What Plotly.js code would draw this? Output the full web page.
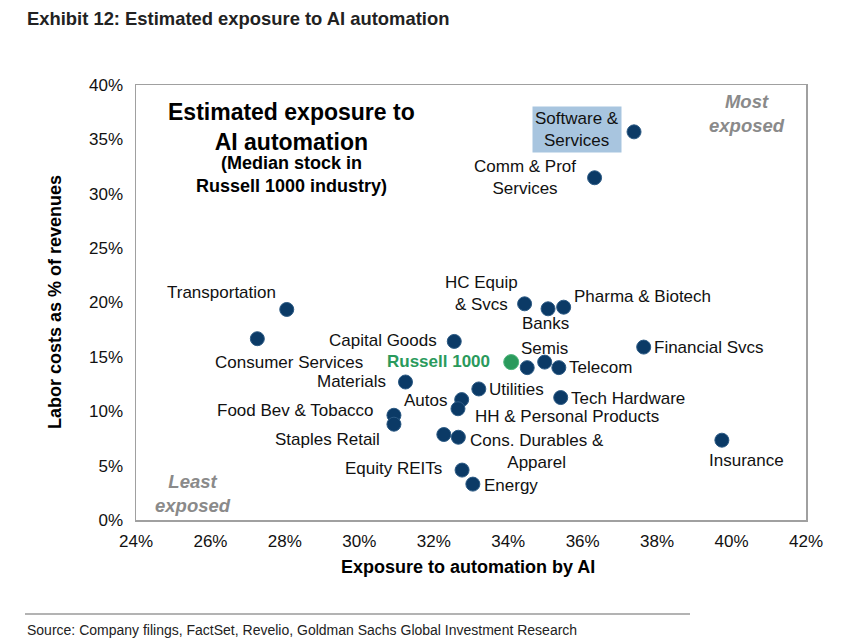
<!DOCTYPE html>
<html>
<head>
<meta charset="utf-8">
<script src="https://cdn.plot.ly/plotly-3.0.1.min.js"></script>
<style>html,body{margin:0;padding:0;background:#fff;}#chart{width:853px;height:640px;}</style>
</head>
<body>
<div id="chart"></div>
<script>
// ---- data ----
const industries = [
  "Software &<br>Services", "Comm & Prof<br>Services", "Transportation", "Consumer Services",
  "Capital Goods", "HC Equip<br>& Svcs", "Banks", "Pharma & Biotech", "Financial Svcs",
  "Semis", "Telecom", "", "Materials", "Utilities", "Autos", "HH & Personal Products",
  "Tech Hardware", "Food Bev & Tobacco", "Staples Retail", "", "Cons. Durables &<br>Apparel",
  "Equity REITs", "Energy", "Insurance"
];
const aiExposure = [
  37.38, 36.32, 28.05, 27.26,
  32.55, 34.44, 35.07, 35.49, 37.64,
  34.98, 35.36, 34.51, 31.24, 33.21, 32.75, 32.65,
  35.41, 30.93, 30.93, 32.27, 32.66,
  32.76, 33.05, 39.74
];
const laborCosts = [
  35.69, 31.47, 19.36, 16.67,
  16.42, 19.88, 19.42, 19.57, 15.90,
  14.52, 14.01, 14.01, 12.69, 12.05, 11.07, 10.23,
  11.26, 9.63, 8.81, 7.86, 7.61,
  4.59, 3.30, 7.34
];
const benchmarkName = ["Russell 1000"];
const benchmarkX = [34.08];
const benchmarkY = [14.52];
const xTicks = [24, 26, 28, 30, 32, 34, 36, 38, 40, 42];
const yTicks = [0, 5, 10, 15, 20, 25, 30, 35, 40];

// ---- label placement (pixel offsets from each point) ----
const labelPlace = [
  ["right", -12, 2], ["right", -18, 0], ["right", -10, 17], ["center", 32, -24],
  ["right", -16, 1], ["right", -6, 10], ["center", -3, -15], ["left", 9, 11], ["left", 9, 0],
  ["center", 0, 14], ["left", 9, 0], ["left", 0, 0], ["right", -18, 1], ["left", 9, -1],
  ["right", -14, -1], ["left", 16, -8], ["left", 9, -1], ["right", -19, 5], ["right", -13, -15],
  ["left", 0, 0], ["left", 11, -14], ["right", -19, 2], ["left", 10, -1], ["center", 25, -20]
];

const navy = "#0b3a66";
const green = "#2a9a5c";
const sans = "Liberation Sans, Arial, sans-serif";
const labelFont = {family: sans, size: 17, color: "#111"};
const tickFont = {family: sans, size: 17, color: "#111"};

const traces = [
  {
    type: "scatter", mode: "markers",
    x: aiExposure, y: laborCosts, text: industries, hoverinfo: "text+x+y",
    marker: {size: 14, color: navy, line: {color: "#2c5a84", width: 1}},
    showlegend: false
  },
  {
    type: "scatter", mode: "markers",
    x: benchmarkX, y: benchmarkY, text: benchmarkName, hoverinfo: "text+x+y",
    marker: {size: 15, color: green, line: {color: "#4cb47a", width: 1}},
    showlegend: false
  }
];

const annotations = [];
industries.forEach((name, i) => {
  if (!name) return;
  const p = labelPlace[i];
  const a = {
    x: aiExposure[i], y: laborCosts[i], xref: "x", yref: "y",
    text: name, showarrow: false, xanchor: p[0], yanchor: "middle",
    xshift: p[1], yshift: p[2], font: labelFont, align: "center", borderpad: 0
  };
  if (i === 0) { a.bgcolor = "#a8c5df"; a.borderpad = 2; }
  annotations.push(a);
});
annotations.push({
  x: benchmarkX[0], y: benchmarkY[0], xref: "x", yref: "y", text: "<b>" + benchmarkName[0] + "</b>",
  showarrow: false, xanchor: "right", yanchor: "middle", xshift: -19, yshift: 1,
  font: {family: sans, size: 17, color: green}
});
// in-plot headline
annotations.push({
  xref: "paper", yref: "paper", x: (291 - 136) / 670, y: 1 - (127 - 85) / 435,
  text: "<b>Estimated exposure to<br>AI automation</b>", showarrow: false,
  xanchor: "center", yanchor: "middle", align: "center",
  font: {family: sans, size: 23, color: "#000"}
});
annotations.push({
  xref: "paper", yref: "paper", x: (291 - 136) / 670, y: 1 - (174 - 85) / 435,
  text: "<b>(Median stock in<br>Russell 1000 industry)</b>", showarrow: false,
  xanchor: "center", yanchor: "middle", align: "center",
  font: {family: sans, size: 18, color: "#000"}
});
annotations.push({
  xref: "paper", yref: "paper", x: (747 - 136) / 670, y: 1 - (113 - 85) / 435,
  text: "<b><i>Most<br>exposed</i></b>", showarrow: false,
  xanchor: "center", yanchor: "middle", align: "center",
  font: {family: sans, size: 18.5, color: "#8a8a8a"}
});
annotations.push({
  xref: "paper", yref: "paper", x: (193 - 136) / 670, y: 1 - (493 - 85) / 435,
  text: "<b><i>Least<br>exposed</i></b>", showarrow: false,
  xanchor: "center", yanchor: "middle", align: "center",
  font: {family: sans, size: 18.5, color: "#8a8a8a"}
});
// axis titles
annotations.push({
  xref: "paper", yref: "paper", x: (468 - 136) / 670, y: 1 - (567 - 85) / 435,
  text: "<b>Exposure to automation by AI</b>", showarrow: false,
  xanchor: "center", yanchor: "middle",
  font: {family: sans, size: 18, color: "#000"}
});
annotations.push({
  xref: "paper", yref: "paper", x: (55 - 136) / 670, y: 1 - (302 - 85) / 435,
  text: "<b>Labor costs as % of revenues</b>", showarrow: false, textangle: -90,
  xanchor: "center", yanchor: "middle",
  font: {family: sans, size: 18, color: "#000"}
});
// exhibit title and source
annotations.push({
  xref: "paper", yref: "paper", x: (25 - 136) / 670, y: 1 - (18 - 85) / 435,
  text: "<b>Exhibit 12: Estimated exposure to AI automation</b>", showarrow: false,
  xanchor: "left", yanchor: "middle",
  font: {family: sans, size: 18.4, color: "#222"}
});
annotations.push({
  xref: "paper", yref: "paper", x: (25 - 136) / 670, y: 1 - (630 - 85) / 435,
  text: "Source: Company filings, FactSet, Revelio, Goldman Sachs Global Investment Research", showarrow: false,
  xanchor: "left", yanchor: "middle",
  font: {family: sans, size: 14, color: "#222"}
});

const layout = {
  width: 853, height: 640,
  margin: {l: 136, r: 47, t: 85, b: 120},
  paper_bgcolor: "#fff", plot_bgcolor: "#fff",
  xaxis: {
    range: [24, 42], tickvals: xTicks, ticktext: xTicks.map(v => v + "%"),
    showgrid: false, zeroline: false, showline: true, mirror: true, linecolor: "#a0a0a0", linewidth: 1.5,
    ticks: "outside", ticklen: 5, tickcolor: "rgba(0,0,0,0)", tickfont: tickFont, fixedrange: true
  },
  yaxis: {
    range: [0, 40], tickvals: yTicks, ticktext: yTicks.map(v => v + "%"),
    showgrid: false, zeroline: false, showline: true, mirror: true, linecolor: "#a0a0a0", linewidth: 1.5,
    ticks: "outside", ticklen: 8, tickcolor: "rgba(0,0,0,0)", tickfont: tickFont, fixedrange: true
  },
  annotations: annotations,
  shapes: [{
    type: "line", xref: "paper", yref: "paper",
    x0: (25 - 136) / 670, x1: (690 - 136) / 670,
    y0: 1 - (614 - 85) / 435, y1: 1 - (614 - 85) / 435,
    line: {color: "#9a9a9a", width: 1.5}
  }],
  showlegend: false
};

Plotly.newPlot("chart", traces, layout, {displayModeBar: false, staticPlot: true});
</script>
</body>
</html>
